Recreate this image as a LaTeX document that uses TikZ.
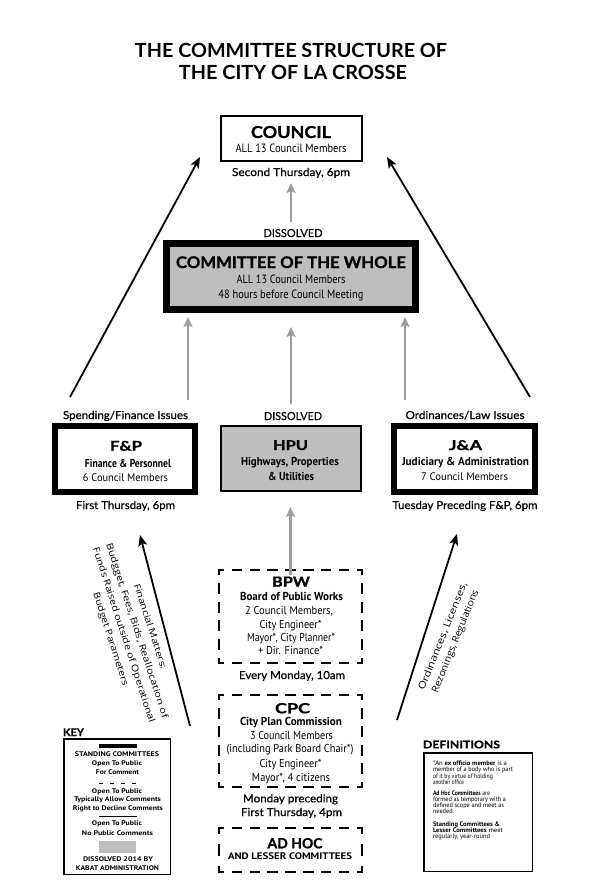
\documentclass[tikz,border=0pt]{standalone}
\usepackage{fontspec}
\usepackage{graphicx}
\usetikzlibrary{arrows.meta}
\setmainfont{Lato}
\newfontfamily\latoM{Lato}[FakeBold=0.6]
\newfontfamily\latoH{Lato}[BoldFeatures={FakeBold=1.0}]
\newfontfamily\condf{PT Sans}
\newfontfamily\opens{Open Sans}
\newcommand\fsz[1]{\fontsize{#1}{#1}\selectfont}
\newcommand\fw[2]{\resizebox{#1pt}{\height}{#2}}
\newcommand\tx[6]{\node[lbl] (#1) at (#2,#3) {#4\fw{#5}{#6}};}
\newcommand\txw[6]{\node[lblw] (#1) at (#2,#3) {#4\fw{#5}{#6}};}
\newcommand\dside[4]{%
  \pgfmathsetmacro\dP{#3/#4}%
  \pgfmathsetmacro\dOn{0.58*\dP-1.8}%
  \pgfmathsetmacro\dOff{\dP-\dOn}%
  \pgfmathsetmacro\dPh{\dOn/2}%
  \draw[dline, dash pattern=on \dOn pt off \dOff pt, dash phase=\dPh pt] (#1) -- (#2);}
\definecolor{arrgray}{RGB}{158,158,158}
\definecolor{boxgray}{RGB}{190,190,190}
\tikzset{
  lbl/.style={anchor=base, inner sep=0pt, outer sep=0pt},
  lblw/.style={anchor=base west, inner sep=0pt, outer sep=0pt},
  sbox/.style={draw=black, inner sep=0pt, outer sep=0pt},
  dnode/.style={draw=none, inner sep=0pt, outer sep=0pt},
  harr/.style={line width=1.8pt, -{Stealth[length=11pt,width=9pt,inset=2.5pt]}},
  garr/.style={draw=arrgray, line width=2.2pt, -{Stealth[length=10pt,width=9pt,inset=2pt]}},
  dline/.style={line width=1.8pt, line cap=rect},
  rot/.style={inner sep=0pt, align=center},
}
\begin{document}
\begin{tikzpicture}[x=1pt,y=-1pt]
\useasboundingbox[fill=white] (0,0) rectangle (591,895);

% ---------- title
\tx{title1}{291}{57}{\bfseries\fsz{19.5}}{312}{THE COMMITTEE STRUCTURE OF}
\tx{title2}{293}{79}{\bfseries\fsz{19.5}}{228}{THE CITY OF LA CROSSE}

% ---------- council
\node[sbox, line width=2pt, minimum width=141pt, minimum height=45pt] (council) at (291.5,138.5) {};
\tx{c1}{291}{138}{\latoH\bfseries\fsz{16.5}}{80}{COUNCIL}
\tx{c2}{291}{152}{\condf\fsz{12}}{111}{ALL 13 Council Members}
\tx{c3}{291}{176}{\latoM\fsz{11}}{118}{Second Thursday, 6pm}

% ---------- committee of the whole
\tx{d1}{293}{237}{\latoM\fsz{11}}{59}{DISSOLVED}
\node[sbox, fill=boxgray, line width=7pt, minimum width=249pt, minimum height=66pt] (cotw) at (291,276.5) {};
\tx{w1}{291}{268}{\latoH\bfseries\fsz{16}}{230}{COMMITTEE OF THE WHOLE}
\tx{w2}{291}{283}{\condf\fsz{12}}{109}{ALL 13 Council Members}
\tx{w3}{291}{298.5}{\condf\fsz{12}}{145}{48 hours before Council Meeting}

% ---------- middle row
\tx{s1}{125.5}{419}{\latoM\fsz{11}}{125}{Spending/Finance Issues}
\tx{d2}{293}{420}{\latoM\fsz{11}}{58}{DISSOLVED}
\tx{o1}{465}{419}{\latoM\fsz{11}}{119}{Ordinances/Law Issues}

\node[sbox, line width=6pt, minimum width=140pt, minimum height=66pt] (fp) at (125,459) {};
\tx{f1}{126}{450.7}{\latoH\bfseries\fsz{13.5}}{32}{F\&P}
\tx{f2}{128}{467.5}{\condf\bfseries\fsz{11.5}}{86}{Finance \& Personnel}
\tx{f3}{125.5}{481.7}{\condf\fsz{11}}{85}{6 Council Members}
\tx{f4}{125.5}{509}{\latoM\fsz{11}}{99}{First Thursday, 6pm}

\node[sbox, fill=boxgray, line width=2pt, minimum width=140pt, minimum height=65pt] (hpu) at (291,458.5) {};
\tx{h1}{290.5}{450}{\latoH\bfseries\fsz{13.5}}{35}{HPU}
\tx{h2}{290}{465}{\condf\bfseries\fsz{11.5}}{98}{Highways, Properties}
\tx{h3}{291}{480}{\condf\bfseries\fsz{11.5}}{46}{\& Utilities}

\node[sbox, line width=6pt, minimum width=141pt, minimum height=66pt] (ja) at (464.5,459) {};
\tx{j1}{465.5}{450}{\latoH\bfseries\fsz{13.5}}{33}{J\&A}
\tx{j2}{465.5}{465}{\condf\bfseries\fsz{11.5}}{127}{Judiciary \& Administration}
\tx{j3}{464.5}{480}{\condf\fsz{11}}{87}{7 Council Members}
\tx{j4}{465}{509}{\latoM\fsz{11}}{145}{Tuesday Preceding F\&P, 6pm}

% ---------- BPW
\node[dnode, minimum width=143.2pt, minimum height=93.2pt] (bpw) at (290.5,616.5) {};
\dside{bpw.north west}{bpw.north east}{143.2}{8}
\dside{bpw.south west}{bpw.south east}{143.2}{8}
\dside{bpw.north west}{bpw.south west}{93.2}{5}
\dside{bpw.north east}{bpw.south east}{93.2}{5}
\tx{b1}{291}{586.7}{\latoH\bfseries\fsz{14}}{38}{BPW}
\tx{b2}{291.5}{600.7}{\condf\bfseries\fsz{11.5}}{103}{Board of Public Works}
\tx{b3}{289}{614}{\condf\fsz{11.5}}{88}{2 Council Members,}
\tx{b4}{290.5}{628.3}{\condf\fsz{11.5}}{62}{City Engineer*}
\tx{b5}{291}{641.7}{\condf\fsz{11.5}}{88}{Mayor*, City Planner*}
\tx{b6}{290.5}{654.3}{\condf\fsz{11.5}}{65}{+ Dir. Finance*}
\tx{b7}{292}{679}{\latoM\fsz{11}}{106}{Every Monday, 10am}

% ---------- CPC
\node[dnode, minimum width=143.2pt, minimum height=92.2pt] (cpc) at (290.5,741) {};
\dside{cpc.north west}{cpc.north east}{143.2}{8}
\dside{cpc.south west}{cpc.south east}{143.2}{8}
\dside{cpc.north west}{cpc.south west}{92.2}{5}
\dside{cpc.north east}{cpc.south east}{92.2}{5}
\tx{p1}{292.5}{713.3}{\latoH\bfseries\fsz{14}}{35}{CPC}
\tx{p2}{291}{725.7}{\condf\bfseries\fsz{11.5}}{102}{City Plan Commission}
\tx{p3}{291.5}{739.3}{\condf\fsz{11.5}}{83}{3 Council Members}
\tx{p4}{290}{752.5}{\condf\fsz{11.5}}{127}{(including Park Board Chair*)}
\tx{p5}{290.5}{767}{\condf\fsz{11.5}}{62}{City Engineer*}
\tx{p6}{291}{781}{\condf\fsz{11.5}}{78}{Mayor*, 4 citizens}
\tx{p7}{290.5}{802.3}{\latoM\fsz{11}}{95}{Monday preceding}
\tx{p8}{291.5}{816}{\latoM\fsz{11}}{101}{First Thursday, 4pm}

% ---------- AD HOC
\node[dnode, minimum width=143.2pt, minimum height=44.2pt] (adhoc) at (290.5,850) {};
\dside{adhoc.north west}{adhoc.north east}{143.2}{8}
\dside{adhoc.south west}{adhoc.south east}{143.2}{8}
\dside{adhoc.north west}{adhoc.south west}{44.2}{2}
\dside{adhoc.north east}{adhoc.south east}{44.2}{2}
\tx{a1}{295}{848.3}{\latoH\bfseries\fsz{14}}{55}{AD HOC}
\tx{a2}{290}{859.3}{\condf\bfseries\fsz{9.5}}{124}{AND LESSER COMMITTEES}

% ---------- arrows
\coordinate (aLb) at (70,397);  \coordinate (aLt) at (200,157);
\coordinate (aRb) at (530,397); \coordinate (aRt) at (387,157);
\coordinate (fLb) at (190,726); \coordinate (fLt) at (140,535);
\coordinate (oRb) at (397,720); \coordinate (oRt) at (457,534);
\coordinate (gL) at (188,400);  \coordinate (gM) at (291,404); \coordinate (gR) at (405,400);
\draw[harr] (aLb) -- (aLt);
\draw[harr] (aRb) -- (aRt);
\draw[harr] (fLb) -- (fLt);
\draw[harr] (oRb) -- (oRt);
\draw[garr, shorten <=21.5pt, shorten >=22pt] (cotw.north) -- (cotw.north |- council.south);
\draw[garr, shorten >=7.5pt] (gL) -- (gL |- cotw.south);
\draw[garr, shorten >=17.5pt] (gM) -- (gM |- cotw.south);
\draw[garr, shorten >=7.5pt] (gR) -- (gR |- cotw.south);
\draw[garr, shorten <=-5pt, shorten >=16pt] (bpw.north) -- (bpw.north |- hpu.south);

% ---------- rotated labels
\node[rot, rotate=-72, font=\opens\fontsize{9}{13.8}\selectfont] (finlbl) at (130,633)
  {\fw{89}{Financial Matters:}\\\fw{183}{Budgget, Fees, Bids, Reallocation of}\\\fw{183}{Funds Raised outside of Operational}\\\fw{97}{Budget Parameters}};
\node[rot, rotate=68, font=\opens\fontsize{9.5}{13.5}\selectfont] (ordlbl) at (449.5,639)
  {\fw{115}{Ordinances, Licenses,}\\\fw{110}{Rezonings, Regulations}};

% ---------- key
\txw{k0}{63}{736}{\latoH\bfseries\fsz{10.5}}{21}{KEY}
\node[sbox, line width=1.5pt, minimum width=106.5pt, minimum height=135.5pt] (keybox) at (117,806.5) {};
\fill (99,744) rectangle (137,748);
\tx{k1}{117}{756.7}{\condf\bfseries\fsz{6.7}}{84}{STANDING COMMITTEES}
\tx{k2}{117}{765.5}{\condf\bfseries\fsz{6.7}}{50}{Open To Public}
\tx{k3}{117.5}{774}{\condf\bfseries\fsz{6.7}}{43}{For Comment}
\draw[line width=1.3pt, dash pattern=on 4pt off 7pt] (99,783.3) -- (137,783.3);
\tx{k4}{117}{793.3}{\condf\bfseries\fsz{6.7}}{50}{Open To Public}
\tx{k5}{117.5}{801.5}{\condf\bfseries\fsz{6.7}}{87}{Typically Allow Comments}
\tx{k6}{118}{810.5}{\condf\bfseries\fsz{6.7}}{90}{Right to Decline Comments}
\draw[line width=1pt] (99,816.7) -- (137,816.7);
\tx{k7}{117}{825.5}{\condf\bfseries\fsz{6.7}}{50}{Open To Public}
\tx{k8}{117.5}{835}{\condf\bfseries\fsz{6.7}}{71}{No Public Comments}
\fill[boxgray] (99,841) rectangle (136,852.5);
\tx{k9}{118}{861}{\condf\bfseries\fsz{6.7}}{70}{DISSOLVED 2014 BY}
\tx{k10}{117.5}{870}{\condf\bfseries\fsz{6.7}}{83}{KABAT ADMINISTRATION}

% ---------- definitions
\txw{df0}{423}{748.3}{\latoH\bfseries\fsz{10.5}}{77}{DEFINITIONS}
\node[sbox, line width=1.5pt, minimum width=108.5pt, minimum height=118.5pt] (defbox) at (478,812) {};
\txw{df1}{433}{765.5}{\condf\fsz{6.5}}{74}{*An \textbf{ex officio member} is a}
\txw{df2}{433}{771.7}{\condf\fsz{6.5}}{80}{member of a body who is part}
\txw{df3}{433}{778}{\condf\fsz{6.5}}{60}{of it by virtue of holding}
\txw{df4}{433}{784}{\condf\fsz{6.5}}{31}{another office}
\txw{df5}{433}{795.5}{\condf\fsz{6.5}}{57}{\textbf{Ad Hoc Committees} are}
\txw{df6}{433}{801.7}{\condf\fsz{6.5}}{73}{formed as temporary with a}
\txw{df7}{433}{807.7}{\condf\fsz{6.5}}{71}{defined scope and meet as}
\txw{df8}{433}{813}{\condf\fsz{6.5}}{21}{needed.}
\txw{df9}{433}{826.7}{\condf\fsz{6.5}}{67}{\textbf{Standing Committees \&}}
\txw{df10}{433}{832.7}{\condf\fsz{6.5}}{70}{\textbf{Lesser Committees} meet}
\txw{df11}{433}{838.3}{\condf\fsz{6.5}}{57}{regularly, year-round}
\end{tikzpicture}
\end{document}
